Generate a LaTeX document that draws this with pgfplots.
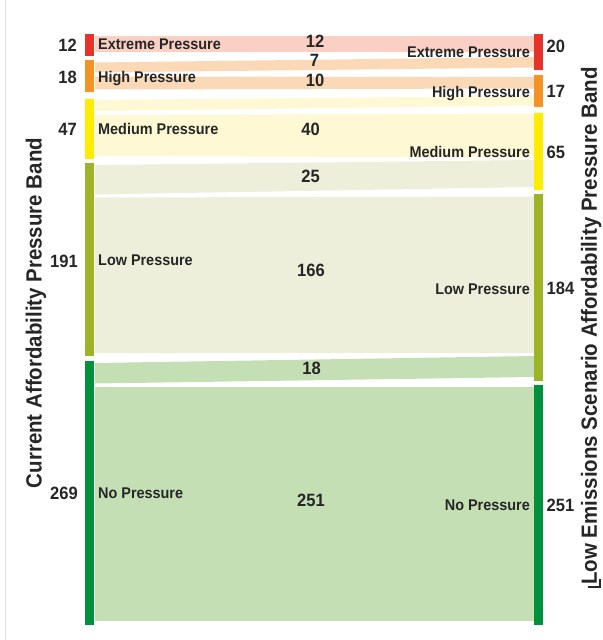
\documentclass[border=0pt]{standalone}
\usepackage{pgfplots}
\pgfplotsset{compat=1.18}
\usepackage{fontspec}
\setmainfont{Liberation Sans}[FakeStretch=0.93]
\definecolor{txt}{HTML}{262626}
\definecolor{nExt}{HTML}{E63329}
\definecolor{nHigh}{HTML}{F39325}
\definecolor{nMed}{HTML}{FFEC00}
\definecolor{nLow}{HTML}{9DB427}
\definecolor{nNo}{HTML}{00913A}
\definecolor{lExt}{HTML}{FAD0C4}
\definecolor{lHigh}{HTML}{FBD8B6}
\definecolor{lMed}{HTML}{FFF8D4}
\definecolor{lLow}{HTML}{EDEFDA}
\definecolor{lNo}{HTML}{C5DFB5}
\newcommand{\labf}{\fontsize{15.5bp}{18bp}\selectfont\bfseries\color{txt}}
\newcommand{\numf}{\fontsize{17.8bp}{20bp}\selectfont\bfseries\color{txt}}
\newcommand{\titf}{\fontsize{22bp}{26bp}\selectfont\bfseries\color{txt}}
\begin{document}
\begin{tikzpicture}
\begin{axis}[scale only axis, width=602bp, height=640bp,
  xmin=0, xmax=602, ymin=0, ymax=640, y dir=reverse,
  hide axis, clip=false]
% ---- links (source -> target, value) ----
% Extreme -> Extreme : 12
\addplot[fill=lExt, draw=none] coordinates {(95,36.5) (534,36.5) (534,52.5) (95,52.5)} -- cycle;
% High -> Extreme : 7
\addplot[fill=lHigh, draw=none] coordinates {(95,62.5) (534,57) (534,67.5) (95,72.5)} -- cycle;
% High -> High : 10
\addplot[fill=lHigh, draw=none] coordinates {(95,76.5) (534,77) (534,88.5) (95,89.5)} -- cycle;
% Medium -> High : 7
\addplot[fill=lMed, draw=none] coordinates {(95,100) (534,96) (534,105.5) (95,111)} -- cycle;
% Medium -> Medium : 40
\addplot[fill=lMed, draw=none] coordinates {(95,115) (534,113.5) (534,157.5) (95,156)} -- cycle;
% Low -> Medium : 25
\addplot[fill=lLow, draw=none] coordinates {(95,165) (534,160) (534,187) (95,194.5)} -- cycle;
% Low -> Low : 166
\addplot[fill=lLow, draw=none] coordinates {(95,197.5) (534,196.5) (534,353) (95,353)} -- cycle;
% No -> Low : 18
\addplot[fill=lNo, draw=none] coordinates {(95,363) (534,356) (534,377) (95,383.5)} -- cycle;
% No -> No : 251
\addplot[fill=lNo, draw=none] coordinates {(95,387) (534,387) (534,621) (95,621)} -- cycle;
% ---- left nodes ----
\addplot[fill=nExt, draw=none] coordinates {(85,34) (94,34) (94,56) (85,56)} -- cycle;
\addplot[fill=nHigh, draw=none] coordinates {(85,60) (94,60) (94,92.5) (85,92.5)} -- cycle;
\addplot[fill=nMed, draw=none] coordinates {(85,99) (94,99) (94,159) (85,159)} -- cycle;
\addplot[fill=nLow, draw=none] coordinates {(85,163) (94,163) (94,356) (85,356)} -- cycle;
\addplot[fill=nNo, draw=none] coordinates {(85,361) (94,361) (94,625) (85,625)} -- cycle;
% ---- right nodes ----
\addplot[fill=nExt, draw=none] coordinates {(534,34.5) (543,34.5) (543,70.5) (534,70.5)} -- cycle;
\addplot[fill=nHigh, draw=none] coordinates {(534,75.5) (543,75.5) (543,107.5) (534,107.5)} -- cycle;
\addplot[fill=nMed, draw=none] coordinates {(534,113) (543,113) (543,190) (534,190)} -- cycle;
\addplot[fill=nLow, draw=none] coordinates {(534,194) (543,194) (543,381) (534,381)} -- cycle;
\addplot[fill=nNo, draw=none] coordinates {(534,385) (543,385) (543,625) (534,625)} -- cycle;
% ---- left labels ----
\node[anchor=base west, inner sep=0, font=\labf] at (axis cs:98,50) {Extreme Pressure};
\node[anchor=base west, inner sep=0, font=\labf] at (axis cs:98,83) {High Pressure};
\node[anchor=base west, inner sep=0, font=\labf] at (axis cs:98,135) {Medium Pressure};
\node[anchor=base west, inner sep=0, font=\labf] at (axis cs:98,265) {Low Pressure};
\node[anchor=base west, inner sep=0, font=\labf] at (axis cs:98,498.5) {No Pressure};
\node[anchor=base east, inner sep=0, font=\numf] at (axis cs:77,52) {12};
\node[anchor=base east, inner sep=0, font=\numf] at (axis cs:77,84) {18};
\node[anchor=base east, inner sep=0, font=\numf] at (axis cs:77,135.5) {47};
\node[anchor=base east, inner sep=0, font=\numf] at (axis cs:78,267.5) {191};
\node[anchor=base east, inner sep=0, font=\numf] at (axis cs:78,499.5) {269};
% ---- right labels ----
\node[anchor=base east, inner sep=0, font=\labf] at (axis cs:530,58) {Extreme Pressure};
\node[anchor=base east, inner sep=0, font=\labf] at (axis cs:530,98) {High Pressure};
\node[anchor=base east, inner sep=0, font=\labf] at (axis cs:530,158) {Medium Pressure};
\node[anchor=base east, inner sep=0, font=\labf] at (axis cs:530,294.5) {Low Pressure};
\node[anchor=base east, inner sep=0, font=\labf] at (axis cs:530,510.5) {No Pressure};
\node[anchor=base west, inner sep=0, font=\numf] at (axis cs:546.5,52.5) {20};
\node[anchor=base west, inner sep=0, font=\numf] at (axis cs:546.5,98) {17};
\node[anchor=base west, inner sep=0, font=\numf] at (axis cs:546.5,158.5) {65};
\node[anchor=base west, inner sep=0, font=\numf] at (axis cs:546.5,294.5) {184};
\node[anchor=base west, inner sep=0, font=\numf] at (axis cs:546.5,511.5) {251};
% ---- link values ----
\node[anchor=base, inner sep=0, font=\numf] at (axis cs:315,48) {12};
\node[anchor=base, inner sep=0, font=\numf] at (axis cs:314.5,67) {7};
\node[anchor=base, inner sep=0, font=\numf] at (axis cs:315,86.5) {10};
\node[anchor=base, inner sep=0, font=\numf] at (axis cs:310.5,135.5) {40};
\node[anchor=base, inner sep=0, font=\numf] at (axis cs:310.5,182.5) {25};
\node[anchor=base, inner sep=0, font=\numf] at (axis cs:311,276.5) {166};
\node[anchor=base, inner sep=0, font=\numf] at (axis cs:311.5,374.5) {18};
\node[anchor=base, inner sep=0, font=\numf] at (axis cs:311,506.5) {251};
% ---- titles ----
\node[anchor=base, rotate=90, inner sep=0, font=\titf] at (axis cs:41.7,313) {Current Affordability Pressure Band};
\node[anchor=base, rotate=90, inner sep=0, font=\titf] at (axis cs:596.8,326) {Low Emissions Scenario Affordability Pressure Band};
% ---- frame decorations ----
\draw[black!12, line width=1.5bp] (axis cs:5.5,0) -- (axis cs:5.5,640);
\draw[black!85, line width=1.6bp] (axis cs:600,579) -- (axis cs:600,587) -- (axis cs:588,587);
\end{axis}
\pgfresetboundingbox
\path (current axis.south west) rectangle (current axis.north east);
\end{tikzpicture}
\end{document}
